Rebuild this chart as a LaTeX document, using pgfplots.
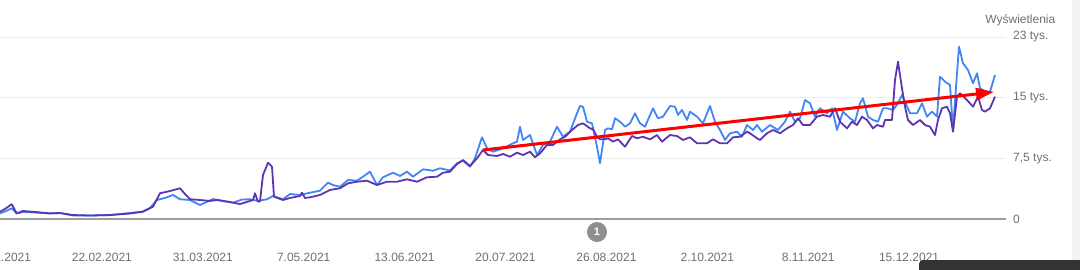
\documentclass[border=0pt]{standalone}
\usepackage{fontspec}
\setmainfont{Liberation Sans}
\usepackage{pgfplots}
\pgfplotsset{compat=1.18}
\usetikzlibrary{arrows.meta}
\definecolor{gblue}{HTML}{4285F4}
\definecolor{gpurple}{HTML}{5E35B1}
\definecolor{gridc}{HTML}{EBEBEB}
\definecolor{basec}{HTML}{9E9E9E}
\definecolor{txt}{HTML}{6F6F6F}
\definecolor{bandc}{HTML}{F1F3F4}
\definecolor{darkc}{HTML}{333333}
\begin{document}
\begin{tikzpicture}[x=1pt,y=1pt]
\fill[bandc] (1072,-41) rectangle (1080,219);
\begin{axis}[
  at={(0pt,0pt)}, anchor=south west, scale only axis,
  width=1006pt, height=182pt,
  xmin=0, xmax=1006, ymin=0, ymax=22.5,
  axis line style={draw=none},
  major tick length=0pt,
  xtick={1,101.9,202.8,303.7,404.6,505.5,606.4,707.3,808.2,909.1},
  xticklabels={16.01.2021,22.02.2021,31.03.2021,7.05.2021,13.06.2021,20.07.2021,26.08.2021,2.10.2021,8.11.2021,15.12.2021},
  ytick={0,7.5,15,22.5},
  yticklabels={0,{7,5 tys.},{15 tys.},{23 tys.}},
  yticklabel pos=right,
  ymajorgrids, grid style={gridc, line width=1pt},
  tick label style={font=\fontsize{12}{14}\selectfont, text=txt},
  xticklabel style={anchor=center, yshift=-38pt},
  yticklabel style={anchor=west, xshift=3.7pt},
  clip=false,
]
\draw[basec, line width=1.6pt] (axis cs:0,0) -- (axis cs:1006,0);
\addplot[gblue, line width=1.8pt, line join=round] coordinates {
(0,0.70)(5,0.93)(11.7,1.32)(16.7,0.68)(23,0.87)(35,0.80)(50,0.68)(60,0.74)(73,0.43)(90,0.43)(110,0.49)(130,0.74)(143,0.93)(150,1.36)(157,2.35)(165,2.60)(173,2.97)(180,2.44)(190,2.35)(200,1.73)(213,2.47)(223,2.23)(233,2.02)(242,2.41)(250,2.44)(258,2.23)(267,2.44)(273,2.84)(283,2.44)(290,3.09)(300,2.97)(310,3.25)(320,3.50)(328,4.49)(333,4.20)(340,3.99)(348,4.82)(357,4.73)(363,5.23)(370,5.85)(377,4.20)(383,5.16)(393,5.72)(400,5.32)(407,5.85)(413,5.23)(423,6.14)(433,5.97)(440,6.27)(450,6.00)(457,6.89)(463,7.21)(470,6.47)(475,7.50)(482,10.10)(487,8.74)(493,8.32)(503,8.74)(513,9.36)(517,9.56)(520,11.41)(523,9.77)(530,10.38)(537,7.91)(543,9.15)(550,9.56)(557,11.41)(563,10.17)(570,10.79)(577,13.07)(580,13.97)(583,13.88)(587,12.03)(592,11.83)(597,8.94)(600,6.89)(605,11.00)(608,11.21)(612,11.09)(615,12.45)(620,12.03)(625,11.41)(630,11.83)(635,13.07)(640,11.83)(645,11.41)(653,13.69)(658,12.45)(663,12.65)(670,13.97)(675,13.88)(678,12.86)(682,13.48)(687,12.24)(690,13.27)(697,12.65)(703,11.83)(710,13.97)(715,12.03)(720,11.00)(725,9.77)(730,10.60)(737,10.79)(742,10.17)(747,11.62)(753,11.00)(757,11.62)(762,10.79)(770,11.62)(778,11.00)(785,12.03)(790,13.27)(795,12.03)(800,12.45)(805,14.71)(810,14.30)(815,12.65)(820,13.69)(827,13.07)(832,13.69)(837,11.00)(843,13.27)(850,12.45)(855,12.03)(860,14.30)(863,14.92)(868,12.65)(873,12.24)(878,12.03)(883,13.69)(887,13.69)(893,13.48)(898,14.30)(902,15.33)(905,14.50)(910,13.07)(917,13.07)(922,14.30)(927,12.65)(932,13.27)(937,12.65)(940,17.59)(945,16.97)(950,16.57)(953,11.00)(957,18.01)(959,21.30)(963,19.25)(968,18.42)(973,16.78)(977,18.01)(980,16.16)(985,15.74)(990,15.74)(995,17.80)
};
\addplot[gpurple, line width=1.8pt, line join=round] coordinates {
(0,0.90)(5,1.24)(11.7,1.82)(16.7,0.70)(23,0.99)(35,0.87)(50,0.70)(60,0.74)(73,0.49)(90,0.43)(110,0.49)(130,0.68)(143,0.90)(153,1.52)(160,3.18)(170,3.46)(180,3.80)(185,3.09)(190,2.44)(200,2.35)(210,2.23)(217,2.35)(230,2.10)(240,1.85)(253,2.35)(255,3.18)(258,2.14)(260,2.20)(263,5.44)(268,6.96)(272,6.47)(274,2.76)(283,2.35)(290,2.60)(300,2.84)(302,3.25)(305,2.60)(310,2.68)(320,2.97)(330,3.59)(340,3.80)(348,4.41)(357,4.61)(367,4.73)(377,4.20)(387,4.61)(397,4.61)(407,4.91)(417,4.61)(427,5.16)(437,5.23)(443,5.72)(450,5.85)(457,6.80)(463,7.29)(470,6.55)(477,7.50)(483,8.53)(488,7.91)(497,7.79)(503,8.04)(510,7.70)(517,8.20)(523,7.91)(530,8.32)(535,7.63)(540,8.12)(547,9.15)(553,9.15)(560,9.85)(565,10.17)(570,10.79)(578,11.62)(583,11.83)(590,11.21)(593,11.09)(597,10.17)(600,9.85)(605,9.85)(608,9.98)(613,9.56)(618,9.85)(625,8.94)(632,10.26)(637,9.98)(643,10.17)(650,9.85)(657,10.38)(662,9.56)(670,10.38)(677,10.26)(683,9.77)(690,10.10)(697,9.36)(707,9.36)(713,9.85)(720,9.36)(727,9.36)(733,10.10)(740,10.17)(747,10.79)(750,10.60)(757,9.98)(760,9.77)(767,10.60)(773,11.00)(780,10.60)(787,11.21)(793,11.62)(798,12.45)(803,11.62)(810,11.62)(817,12.65)(823,12.86)(830,12.65)(835,13.69)(840,12.03)(847,11.21)(852,12.03)(857,11.62)(862,12.65)(867,12.24)(873,11.21)(877,11.62)(883,11.41)(885,12.24)(892,12.24)(895,17.18)(898,19.45)(902,16.16)(905,13.88)(908,12.24)(913,11.62)(920,12.24)(925,11.62)(930,11.41)(935,10.38)(938,12.24)(942,13.69)(947,13.88)(950,13.07)(953,10.79)(957,15.12)(960,15.54)(967,14.71)(973,13.88)(978,15.12)(982,13.48)(985,13.27)(990,13.69)(995,15.12)
};
\draw[red, line width=3pt, -{Triangle[length=18pt,width=12pt]}] (axis cs:483,8.53) -- (axis cs:994,15.70);
\end{axis}
\node[anchor=east, inner sep=0pt, text=txt, font=\fontsize{12}{14}\selectfont] at (1055.5,198.3) {Wyświetlenia};
\fill[basec!90!black] (597,-13) circle (10);
\node[text=white, font=\fontsize{11}{13}\selectfont\bfseries, inner sep=0pt] at (597,-13) {1};
\fill[darkc, rounded corners=4pt] (919,-41) rectangle (1090,-60);
\pgfresetboundingbox
\path[use as bounding box] (0,-50) rectangle (1080,219);
\end{tikzpicture}
\end{document}
